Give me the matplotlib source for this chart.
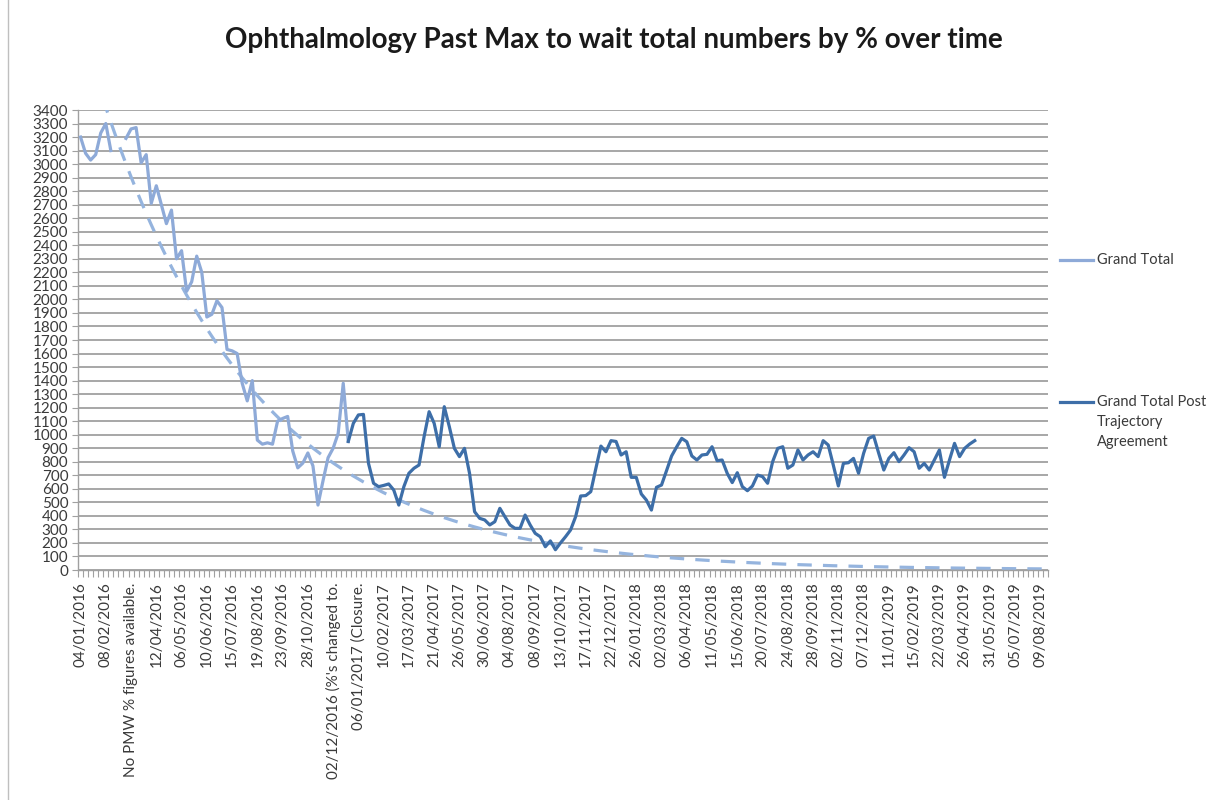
import numpy as np
import matplotlib
matplotlib.use("Agg")
import matplotlib.pyplot as plt
from matplotlib.lines import Line2D

plt.rcParams['font.family'] = ['Lato', 'DejaVu Sans']

# ---------------- data ----------------
n_categories = 192
tick_labels = [
    "04/01/2016", "08/02/2016", "No PMW % figures available.", "12/04/2016",
    "06/05/2016", "10/06/2016", "15/07/2016", "19/08/2016", "23/09/2016",
    "28/10/2016", "02/12/2016 (%'s changed to.", "06/01/2017 (Closure.",
    "10/02/2017", "17/03/2017", "21/04/2017", "26/05/2017", "30/06/2017",
    "04/08/2017", "08/09/2017", "13/10/2017", "17/11/2017", "22/12/2017",
    "26/01/2018", "02/03/2018", "06/04/2018", "11/05/2018", "15/06/2018",
    "20/07/2018", "24/08/2018", "28/09/2018", "02/11/2018", "07/12/2018",
    "11/01/2019", "15/02/2019", "22/03/2019", "26/04/2019", "31/05/2019",
    "05/07/2019", "09/08/2019",
]
label_step = 5

grand_total = [
    3200, 3080, 3030, 3070, 3230, 3300, 3100, np.nan, np.nan, 3190,
    3260, 3270, 3010, 3070, 2710, 2840, 2700, 2560, 2660, 2300,
    2360, 2060, 2130, 2320, 2200, 1870, 1890, 1990, 1940, 1630,
    1620, 1600, 1380, 1250, 1400, 960, 930, 940, 930, 1100,
    1120, 1135, 880, 755, 790, 865, 770, 480, 660, 830,
    900, 1010, 1380, 950,
]

post_start = 53
post_trajectory = [
    950, 1084, 1146, 1150, 788, 641, 616, 625, 636, 591,
    480, 616, 715, 752, 776, 985, 1170, 1084, 911, 1207,
    1059, 899, 838, 899, 715, 431, 382, 370, 333, 357,
    456, 394, 333, 308, 308, 406, 333, 271, 246, 172,
    215, 150, 200, 246, 296, 394, 547, 550, 579, 750,
    916, 874, 956, 950, 850, 874, 685, 685, 562, 517,
    443, 611, 628, 735, 843, 910, 973, 948, 843, 813,
    850, 855, 911, 808, 813, 715, 646, 719, 616, 586,
    621, 702, 690, 641, 801, 899, 911, 752, 776, 887,
    813, 850, 874, 838, 956, 924, 776, 621, 788, 793,
    825, 715, 862, 973, 990, 862, 739, 825, 867, 801,
    850, 904, 874, 752, 788, 739, 813, 887, 685, 813,
    936, 838, 899, 931, 956,
]

y_max = 3400
y_step = 100

# ---------------- colours ----------------
light = '#8eaad8'
dark = '#3d6ea8'
trend_col = '#95b4de'
grid_col = '#a0a0a0'

W, H = 1207, 800
fig = plt.figure(figsize=(W / 100, H / 100), dpi=100)
fig.patch.set_facecolor('white')

left, right, top, bottom = 78, 1048, 110, 570
ax = fig.add_axes([left / W, 1 - bottom / H, (right - left) / W, (bottom - top) / H])

x_gt = np.arange(len(grand_total))
y_gt = np.array(grand_total, dtype=float)
x_pt = np.arange(post_start, post_start + len(post_trajectory))
y_pt = np.array(post_trajectory, dtype=float)

# exponential trendline fitted to Grand Total, forecast forward
mask = ~np.isnan(y_gt)
b, ln_a = np.polyfit(x_gt[mask], np.log(y_gt[mask]), 1)
x_tr = np.arange(n_categories)
y_tr = np.exp(ln_a + b * x_tr)

ax.plot(x_tr, y_tr, color=trend_col, lw=2.3, ls=(0, (4.5, 3.5)), zorder=2)
ax.plot(x_gt, y_gt, color=light, lw=2.3, zorder=3, solid_joinstyle='round')
ax.plot(x_pt, y_pt, color=dark, lw=2.3, zorder=4, solid_joinstyle='round')

ax.set_xlim(-0.5, n_categories - 0.5)
ax.set_ylim(0, y_max)
ax.set_yticks(np.arange(0, y_max + 1, y_step))
ax.set_yticklabels([str(v) for v in range(0, y_max + 1, y_step)], fontsize=11, color='#3a3a3a')
ax.yaxis.grid(True, color=grid_col, lw=1.3)
ax.set_axisbelow(True)

major_pos = np.arange(0, len(tick_labels) * label_step, label_step)
ax.set_xticks(major_pos)
ax.set_xticklabels(tick_labels, rotation=90, fontsize=11, color='#3a3a3a', va='top', ha='center')
ax.set_xticks(np.arange(-0.5, n_categories, 1), minor=True)
ax.tick_params(axis='x', which='major', length=0, pad=9)
ax.tick_params(axis='x', which='minor', length=5, color='#a0a0a0', width=0.8, direction='out')
ax.tick_params(axis='y', length=4, color='#a0a0a0', width=0.8, pad=3)

for s in ['top', 'right']:
    ax.spines[s].set_visible(False)
for s in ['left', 'bottom']:
    ax.spines[s].set_color('#a0a0a0')
    ax.spines[s].set_linewidth(1.0)

fig.text(614 / W, 1 - 40 / H, 'Ophthalmology Past Max to wait total numbers by % over time',
         ha='center', va='center', fontsize=20, fontweight='bold', color='#1a1a1a')

# legend (manual, right side)
def px(x, y):
    return x / W, 1 - y / H

x0, y0 = px(1060, 260)
x1, _ = px(1093, 260)
fig.add_artist(Line2D([x0, x1], [y0, y0], color=light, lw=2.3, transform=fig.transFigure))
fig.text(*px(1097, 260), 'Grand Total', ha='left', va='center', fontsize=10.5, color='#3a3a3a')
x0, y0 = px(1060, 402)
fig.add_artist(Line2D([x0, x1], [y0, y0], color=dark, lw=2.3, transform=fig.transFigure))
fig.text(*px(1097, 402), 'Grand Total Post', ha='left', va='center', fontsize=10.5, color='#3a3a3a')
fig.text(*px(1097, 422), 'Trajectory', ha='left', va='center', fontsize=10.5, color='#3a3a3a')
fig.text(*px(1097, 442), 'Agreement', ha='left', va='center', fontsize=10.5, color='#3a3a3a')

# outer chart frame (left edge visible in the crop)
fig.add_artist(Line2D([8 / W, 8 / W], [0, 1], color='#bfbfbf', lw=1.0, transform=fig.transFigure))

fig.savefig('out.png', dpi=100, facecolor='white')
